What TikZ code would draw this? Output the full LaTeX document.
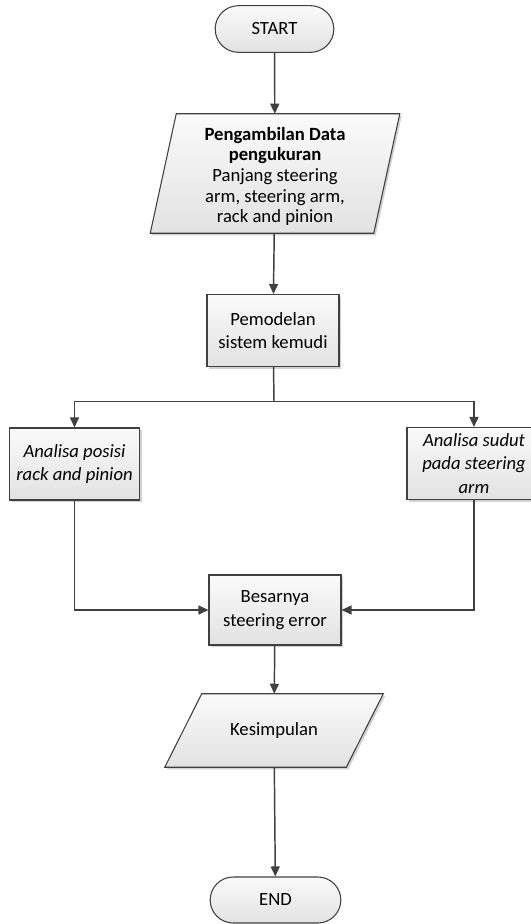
\documentclass[tikz,border=0pt]{standalone}
\usepackage{fontspec}
\setmainfont{Carlito}
\usetikzlibrary{shapes.misc,arrows.meta,shadows,calc}
\definecolor{linegray}{HTML}{404040}
\definecolor{boxtop}{HTML}{FAFAFA}
\definecolor{boxbottom}{HTML}{E2E2E2}

\begin{document}
\begin{tikzpicture}[x=0.75pt, y=-0.75pt,
    every node/.style={font=\fontsize{14}{17.5}\selectfont, align=center, inner sep=0pt},
    shape base/.style={draw=linegray, line width=0.8pt, top color=boxtop, bottom color=boxbottom},
    shade box/.style={drop shadow={shadow xshift=1.5pt, shadow yshift=-1.5pt, fill=black, opacity=0.18}},
    terminal/.style={shape base, rounded rectangle, minimum width=89pt, minimum height=35pt},
    process/.style={shape base, shade box, rectangle, minimum width=99pt, minimum height=54pt},
    io/.style={rectangle},
    flow/.style={draw=linegray, line width=1.1pt, -{Triangle[width=6.75pt, length=7.5pt]}},
    plain/.style={draw=linegray, line width=1.1pt}]
    \useasboundingbox (0,0) rectangle (531,924);

    % Nodes
    \node[terminal] (0) at (274.5, 29) {START};
    \node[io, minimum width=167.25pt, minimum height=89.25pt] (1) at (275, 173.5) {};
    \node[process] (2) at (273, 330.5) {Pemodelan\\sistem kemudi};
    \node[process, minimum width=97.5pt] (3) at (74.5, 464) {\itshape Analisa posisi\\\itshape rack and pinion};
    \node[process, minimum width=100.5pt] (4) at (474, 463.5) {\itshape Analisa sudut\\\itshape pada steering\\\itshape arm};
    \node[process, minimum height=52.5pt] (5) at (275, 610) {Besarnya\\steering error};
    \node[io, minimum width=135.75pt, minimum height=54.75pt] (6) at (274, 730.5) {};
    \node[terminal, minimum width=98pt, minimum height=34.5pt] (7) at (275.5, 900) {END};
    \coordinate (s) at (274, 401.5);

    % Parallelograms
    \draw[shape base, shade box] ($(1.south west)+(-13,0)$) -- ($(1.south east)+(-13,0)$)
        -- ($(1.north east)+(13,0)$) -- ($(1.north west)+(13,0)$) -- cycle;
    \node[font=\fontsize{14}{15.5}\selectfont] at ($(1.center)+(0,3)$)
        {\textbf{Pengambilan Data}\\\textbf{pengukuran}\\Panjang steering\\arm, steering arm,\\rack and pinion};
    \draw[shape base, shade box] ($(6.south west)+(-18.5,0)$) -- ($(6.south east)+(-18.5,0)$)
        -- ($(6.north east)+(18.5,0)$) -- ($(6.north west)+(18.5,0)$) -- cycle;
    \node at (6) {Kesimpulan};

    % Edges
    \draw[flow] (0) -- (1);
    \draw[flow] (1) -- (2);
    \draw[plain] (2) -- (s);
    \draw[flow] (s) -| (3);
    \draw[flow] (s) -| (4);
    \draw[flow] (3) |- (5);
    \draw[flow] (4) |- (5);
    \draw[flow] (5) -- (6);
    \draw[flow] (6) -- (7);
\end{tikzpicture}
\end{document}
